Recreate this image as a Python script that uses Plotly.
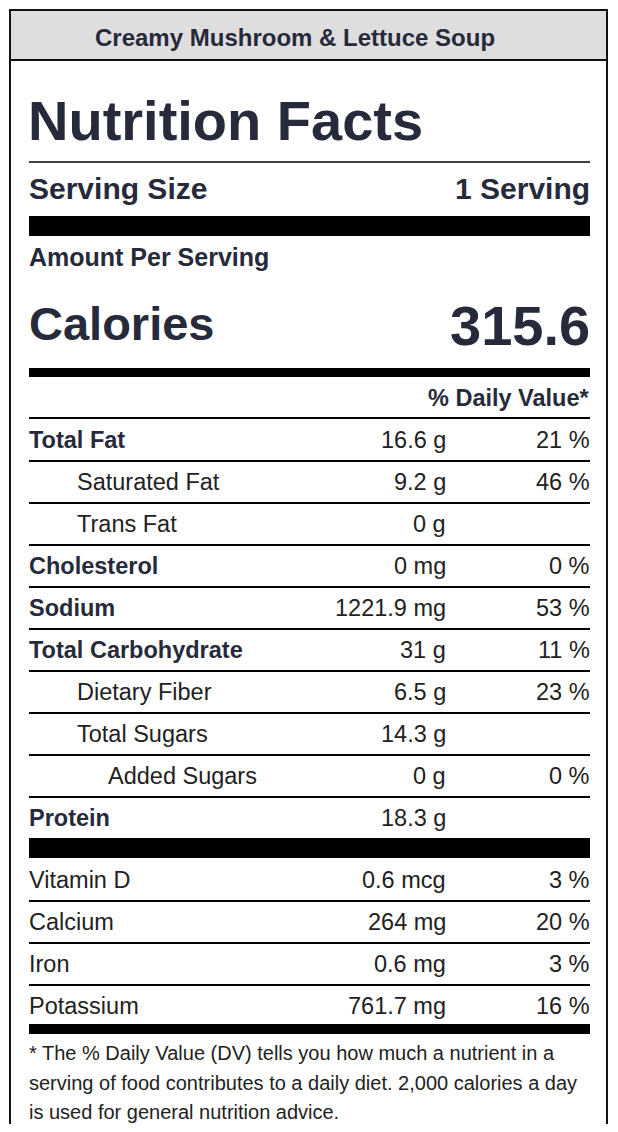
import plotly.graph_objects as go

# Nutrition label data
title = "Creamy Mushroom & Lettuce Soup"
serving_size = "1 Serving"
calories = "315.6"

nutrients = ["Total Fat", "Saturated Fat", "Trans Fat", "Cholesterol", "Sodium",
             "Total Carbohydrate", "Dietary Fiber", "Total Sugars", "Added Sugars", "Protein"]
amounts = ["16.6 g", "9.2 g", "0 g", "0 mg", "1221.9 mg", "31 g", "6.5 g", "14.3 g", "0 g", "18.3 g"]
daily_values = ["21 %", "46 %", "", "0 %", "53 %", "11 %", "23 %", "", "0 %", ""]
levels = [0, 1, 1, 0, 0, 0, 1, 1, 2, 0]

vitamins = ["Vitamin D", "Calcium", "Iron", "Potassium"]
vitamin_amounts = ["0.6 mcg", "264 mg", "0.6 mg", "761.7 mg"]
vitamin_dv = ["3 %", "20 %", "3 %", "16 %"]

footnote = ["* The % Daily Value (DV) tells you how much a nutrient in a",
            "serving of food contributes to a daily diet. 2,000 calories a day",
            "is used for general nutrition advice."]

W, H = 618, 1132
PAD = 8             # default body margin of the html page
FONT = "Liberation Sans, Arial, Helvetica, sans-serif"
NAVY = "#262a3b"
TXT = "#222222"
L, R = 29, 590      # inner left / right edges
AMT_X = 446         # right edge of amount column
ROW = 42            # row pitch

fig = go.Figure()
shapes = []
ann = []


def text(x, y, s, size, bold=False, anchor="left", color=NAVY):
    ann.append(dict(x=x, y=y, xref="x", yref="y", text=f"<b>{s}</b>" if bold else s,
                    showarrow=False, xanchor=anchor, yanchor="middle",
                    borderpad=0, borderwidth=0,
                    font=dict(family=FONT, size=size, color=color)))


def hline(y, w=2):
    shapes.append(dict(type="line", x0=L, x1=R, y0=y, y1=y, xref="x", yref="y",
                       line=dict(color="black", width=w)))


def bar(y0, y1):
    shapes.append(dict(type="rect", x0=L, x1=R, y0=y0, y1=y1, xref="x", yref="y",
                       fillcolor="black", line=dict(width=0)))


# outer frame and title band
shapes.append(dict(type="rect", x0=10, x1=607, y0=10, y1=60, xref="x", yref="y",
                   fillcolor="#dedede", line=dict(color="#111", width=2)))
shapes.append(dict(type="rect", x0=10, x1=607, y0=10, y1=H + 20, xref="x", yref="y",
                   fillcolor="rgba(0,0,0,0)", line=dict(color="#111", width=2)))
text(295, 37, title, 24, bold=True, anchor="center")

text(L - 1, 120, "Nutrition Facts", 56, bold=True)
hline(162, 1.5)
text(L, 188, "Serving Size", 30, bold=True)
text(R, 188, serving_size, 30, bold=True, anchor="right")
bar(216, 236)
text(L, 257, "Amount Per Serving", 25, bold=True)
text(L, 323, "Calories", 47, bold=True)
text(R, 325, calories, 56, bold=True, anchor="right")
bar(368, 377)
text(R, 398, "% Daily Value*", 23.5, bold=True, anchor="right")
hline(418)

# main nutrient rows
indent = {0: L, 1: 77, 2: 108}
for i, name in enumerate(nutrients):
    yc = 440 + ROW * i
    b = levels[i] == 0
    text(indent[levels[i]], yc, name, 23.5, bold=b, color=NAVY if b else TXT)
    text(AMT_X, yc, amounts[i], 23.5, anchor="right", color=TXT)
    if daily_values[i]:
        text(R, yc, daily_values[i], 23.5, anchor="right", color=TXT)
    if i < len(nutrients) - 1:
        hline(yc + 21)

bar(838, 858)

for i, name in enumerate(vitamins):
    yc = 880 + ROW * i
    text(L, yc, name, 23.5, color=TXT)
    text(AMT_X, yc, vitamin_amounts[i], 23.5, anchor="right", color=TXT)
    text(R, yc, vitamin_dv[i], 23.5, anchor="right", color=TXT)
    if i < len(vitamins) - 1:
        hline(yc + 21)

bar(1024, 1034)

for i, line in enumerate(footnote):
    text(L, 1053 + 29.5 * i, line, 20, color=TXT)

# axes in page pixels, offset by the page margin
fig.update_layout(
    width=W - 2 * PAD, height=H - 2 * PAD,
    margin=dict(l=0, r=0, t=0, b=0),
    paper_bgcolor="white", plot_bgcolor="white",
    xaxis=dict(range=[PAD, W - PAD], visible=False, fixedrange=True),
    yaxis=dict(range=[H - PAD, PAD], visible=False, fixedrange=True),
    shapes=shapes, annotations=ann, showlegend=False,
)

fig.write_html("out.html")
